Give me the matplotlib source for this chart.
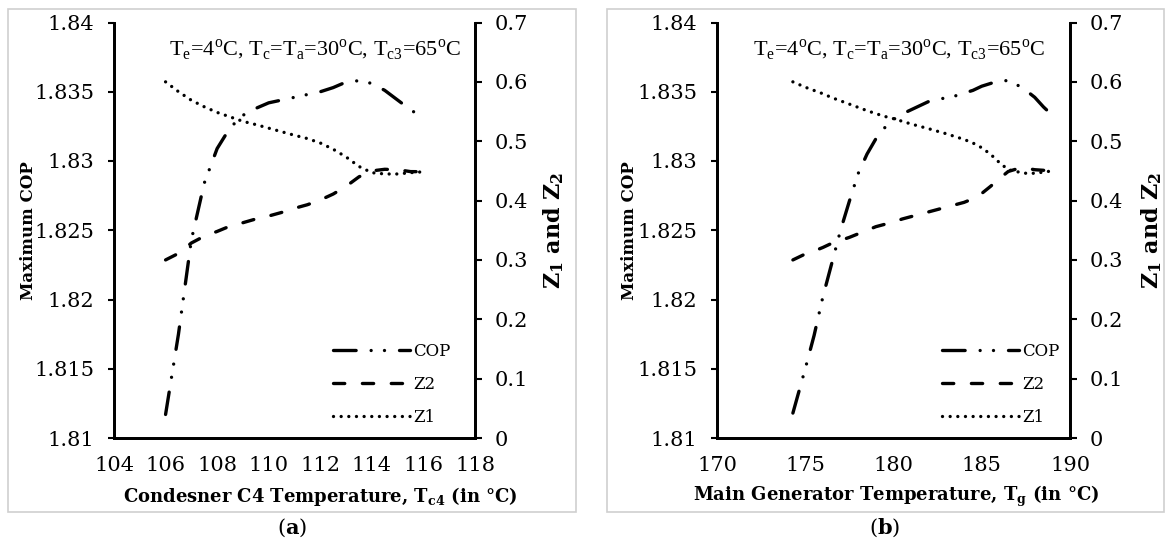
import matplotlib
matplotlib.use("Agg")
import matplotlib.pyplot as plt
from matplotlib.patches import Rectangle

# ---------------- data ----------------
tc4 = [106, 106.5, 107, 107.5, 108, 108.5, 109, 109.5, 110, 110.5, 111,
       111.5, 112, 112.5, 113, 113.5, 114, 114.5, 115, 115.5, 116]
cop_a = [1.8117, 1.8175, 1.8243, 1.8284, 1.8309, 1.8324, 1.8333, 1.8338,
         1.8342, 1.8344, 1.8346, 1.8348, 1.8350, 1.8353, 1.8357, 1.8358,
         1.8356, 1.8351, 1.8344, 1.8337, 1.8331]
z1_a = [0.600, 0.5835, 0.569, 0.558, 0.5485, 0.541, 0.5335, 0.528, 0.522,
        0.516, 0.510, 0.5045, 0.497, 0.4865, 0.4735, 0.4575, 0.447, 0.4448,
        0.4448, 0.447, 0.4485]
z2_a = [0.300, 0.311, 0.3285, 0.340, 0.348, 0.357, 0.3627, 0.369, 0.374,
        0.380, 0.387, 0.393, 0.401, 0.411, 0.424, 0.440, 0.450, 0.4527,
        0.452, 0.4488, 0.4486]

tg = [174.3, 175, 175.5, 176, 176.5, 177, 177.5, 178, 178.5, 179, 179.5,
      180, 180.5, 181, 181.5, 182, 182.5, 183, 183.5, 184, 184.5, 185,
      185.5, 186, 186.5, 187, 187.5, 188, 188.5, 189]
cop_b = [1.8118, 1.8150, 1.8174, 1.8202, 1.8226, 1.8250, 1.8271, 1.8291,
         1.8305, 1.8316, 1.8324, 1.8330, 1.8334, 1.8337, 1.8340, 1.8343,
         1.8344, 1.8346, 1.8347, 1.8349, 1.8351, 1.8354, 1.8356, 1.8358,
         1.8358, 1.8355, 1.8351, 1.8346, 1.8339, 1.8333]
z1_b = [0.600, 0.591, 0.5855, 0.580, 0.5735, 0.568, 0.5625, 0.557, 0.5515,
        0.5465, 0.5418, 0.538, 0.5335, 0.529, 0.525, 0.521, 0.5167, 0.5125,
        0.5077, 0.503, 0.497, 0.489, 0.478, 0.464, 0.452, 0.4486, 0.446,
        0.446, 0.448, 0.450]
z2_b = [0.300, 0.310, 0.315, 0.321, 0.328, 0.333, 0.338, 0.344, 0.350,
        0.356, 0.360, 0.364, 0.369, 0.373, 0.377, 0.381, 0.385, 0.389,
        0.393, 0.397, 0.403, 0.412, 0.424, 0.437, 0.449, 0.4535, 0.4545,
        0.452, 0.451, 0.451]

cop_ticks = [1.81, 1.815, 1.82, 1.825, 1.83, 1.835, 1.84]
cop_ticklabels = ["1.81", "1.815", "1.82", "1.825", "1.83", "1.835", "1.84"]
z_ticks = [0, 0.1, 0.2, 0.3, 0.4, 0.5, 0.6, 0.7]
z_ticklabels = ["0", "0.1", "0.2", "0.3", "0.4", "0.5", "0.6", "0.7"]
xticks_a = [104, 106, 108, 110, 112, 114, 116, 118]
xticks_b = [170, 175, 180, 185, 190]
series_labels = ["COP", "Z2", "Z1"]
note = (r"T$_\mathregular{e}$=4$^\mathregular{o}$C, T$_\mathregular{c}$=T$_\mathregular{a}$"
        r"=30$^\mathregular{o}$C, T$_\mathregular{c3}$=65$^\mathregular{o}$C")
xlabel_a = r"Condesner C4 Temperature, T$_\mathregular{c4}$ (in °C)"
xlabel_b = r"Main Generator Temperature, T$_\mathregular{g}$ (in °C)"

# ---------------- style ----------------
plt.rcParams["lines.scale_dashes"] = False
plt.rcParams["mathtext.fontset"] = "custom"
plt.rcParams["mathtext.rm"] = "DejaVu Serif"
plt.rcParams["mathtext.bf"] = "DejaVu Serif:bold"
TICKFONT = "DejaVu Serif"
LABFONT = "DejaVu Serif"
NOTEFONT = "Liberation Serif"

W, H = 1169, 551
fig = plt.figure(figsize=(W / 100, H / 100), dpi=100)

LW = 2.4
cop_style = dict(color="black", lw=LW, dash_capstyle="round",
                 linestyle=(0, (16.3, 10.8, 0.01, 9.6, 0.01, 10.8)))
z2_style = dict(color="black", lw=LW, dash_capstyle="round",
                linestyle=(0, (8.1, 12.7)))
z1_style = dict(color="black", lw=LW, dash_capstyle="round",
                linestyle=(0, (0.01, 5.5)))

Y0, Y1 = 22.5, 438


def px_axes(x0, x1, y0, y1):
    return fig.add_axes([x0 / W, 1 - y1 / H, (x1 - x0) / W, (y1 - y0) / H])


def panel(x0, x1, xs, cop, z1, z2, xticks, xlim, xlabel, xlab_cx, ylab_lx,
          ylab_rx, note_x, leg_x, tag, tag_x, border):
    ax = px_axes(x0, x1, Y0, Y1)
    ax2 = ax.twinx()
    l_cop, = ax.plot(xs, cop, **cop_style)
    l_z2, = ax2.plot(xs, z2, **z2_style)
    l_z1, = ax2.plot(xs, z1, **z1_style)
    ax.set_xlim(*xlim)
    ax.set_ylim(1.81, 1.84)
    ax2.set_ylim(0, 0.7)
    ax.set_xticks(xticks)
    ax.set_xticklabels([str(t) for t in xticks], family=TICKFONT, fontsize=15)
    ax.set_yticks(cop_ticks)
    ax.set_yticklabels(cop_ticklabels, family=TICKFONT, fontsize=15)
    ax2.set_yticks(z_ticks)
    ax2.set_yticklabels(z_ticklabels, family=TICKFONT, fontsize=15)
    for a in (ax, ax2):
        for s in a.spines.values():
            s.set_linewidth(2.0)
        a.spines["top"].set_visible(False)
    ax.tick_params(axis="x", length=0, pad=13)
    ax.tick_params(axis="y", length=4, width=1.5, pad=10)
    ax2.tick_params(axis="y", length=5, width=1.5, pad=9)
    wpx = x1 - x0
    hpx = Y1 - Y0
    ax.set_xlabel(xlabel, family=LABFONT, fontweight="bold", fontsize=13)
    ax.xaxis.set_label_coords((xlab_cx - x0) / wpx, (Y1 - 496.5) / hpx)
    ax.xaxis.label.set_va("center")
    ax.set_ylabel("Maximum COP", family=LABFONT, fontweight="bold",
                  fontsize=12)
    ax.yaxis.set_label_coords((ylab_lx - x0) / wpx, 0.5)
    ax.yaxis.label.set_va("center")
    ax2.set_ylabel(r"Z$_\mathregular{1}$ and Z$_\mathregular{2}$",
                   family=LABFONT, fontweight="bold", fontsize=16)
    ax2.yaxis.set_label_coords((ylab_rx - x0) / wpx, 0.5)
    ax2.yaxis.label.set_va("center")
    fig.text(note_x / W, 1 - 50 / H, note, family=NOTEFONT, fontsize=16,
             va="center", ha="left")
    leg = ax2.legend([l_cop, l_z2, l_z1], series_labels, loc="upper left",
                     bbox_to_anchor=((leg_x - x0) / wpx,
                                     1 - (343 - Y0) / hpx),
                     frameon=False, handlelength=4.6, handletextpad=0.2,
                     labelspacing=0.95, borderpad=0, borderaxespad=0,
                     prop=dict(family=TICKFONT, size=12))
    fig.text(tag_x / W, 1 - 528 / H, tag, family=TICKFONT, fontsize=15,
             ha="center", va="center")
    bx0, bx1 = border
    fig.add_artist(Rectangle((bx0 / W, 1 - 512 / H), (bx1 - bx0) / W,
                             (512 - 9) / H, transform=fig.transFigure,
                             fill=False, edgecolor="#cfcfcf", lw=1.2))
    return ax, ax2


panel(114, 475, tc4, cop_a, z1_a, z2_a, xticks_a, (104, 118), xlabel_a,
      320, 28, 554, 169, 333, r"($\mathbf{a}$)", 292, (8, 576))
panel(717, 1070, tg, cop_b, z1_b, z2_b, xticks_b, (170, 190), xlabel_b,
      896, 630, 1152, 753, 942, r"($\mathbf{b}$)", 885, (607, 1164))

fig.savefig("out.png", dpi=100)
